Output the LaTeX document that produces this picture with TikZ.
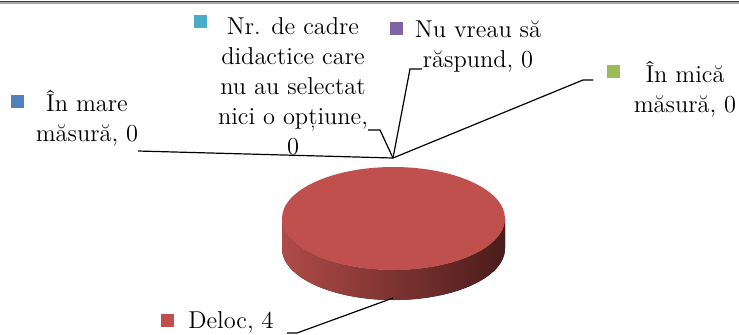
\documentclass[tikz,border=0pt]{standalone}
\usepackage{fontspec}
\usepackage{tikz}

\definecolor{keyblue}{HTML}{4F81BD}
\definecolor{keycyan}{HTML}{4BACC6}
\definecolor{keypurple}{HTML}{8064A2}
\definecolor{keygreen}{HTML}{9BBB59}
\definecolor{piered}{HTML}{C0504D}
\definecolor{pieside}{HTML}{B04B48}
\definecolor{piedark}{HTML}{4A1C1A}

\tikzset{
  lbl/.style={align=center, inner sep=0pt, font=\fontsize{12.2}{15}\selectfont},
  key/.style={inner sep=0pt, minimum size=6.5pt},
  leader/.style={line width=0.6pt, black}
}

\begin{document}
\begin{tikzpicture}[x=0.5pt, y=-0.5pt]

\useasboundingbox (0,0) rectangle (739,334);

\draw [line width=0.5pt, black!75] (0,1.5) -- (739,1.5);
\draw [line width=1pt, black!35] (0,3.2) -- (739,3.2);

% pie
\fill [left color=pieside, right color=piedark]
    (282,218.5) -- (282,248.5)
    arc [start angle=180, end angle=0, x radius=111.5, y radius=51.5]
    -- (505,218.5)
    arc [start angle=0, end angle=180, x radius=111.5, y radius=51.5] -- cycle;
\fill [piered] (393.5,218.5) ellipse [x radius=111.5, y radius=51.5];

\coordinate (hub) at (393,158);
\coordinate (bot) at (393,298);

\node [key, fill=keyblue]   (k0) at (17,101)    {};
\node [key, fill=keycyan]   (k1) at (200,21.5)  {};
\node [key, fill=keypurple] (k2) at (396.5,28.5) {};
\node [key, fill=keygreen]  (k3) at (613.5,71)  {};
\node [key, fill=piered]    (k4) at (167,320)   {};

\node [lbl] (mare)  at (87,118)  {În mare\\măsură, 0};
\node [lbl] (cadre) at (293,86)  {Nr. de cadre\\didactice care\\nu au selectat\\nici o opțiune,\\0};
\node [lbl] (vreau) at (478,46)  {Nu vreau să\\răspund, 0};
\node [lbl] (mica)  at (685,89)  {În mică\\măsură, 0};
\node [lbl] (deloc) at (231,322) {Deloc, 4};

\coordinate (e0) at (138,151);
\coordinate (e1) at (368,130);
\coordinate (b1) at (380,130);
\coordinate (e2) at (422,69);
\coordinate (b2) at (410,69);
\coordinate (e3) at (593,80);
\coordinate (b3) at (583,80);
\coordinate (e4) at (287,333);
\coordinate (b4) at (297,333);

\draw [leader] (e0) -- (hub);
\draw [leader] (e1) -- (b1) -- (hub);
\draw [leader] (e2) -- (b2) -- (hub);
\draw [leader] (e3) -- (b3) -- (hub);
\draw [leader] (e4) -- (b4) -- (bot);

\end{tikzpicture}
\end{document}
